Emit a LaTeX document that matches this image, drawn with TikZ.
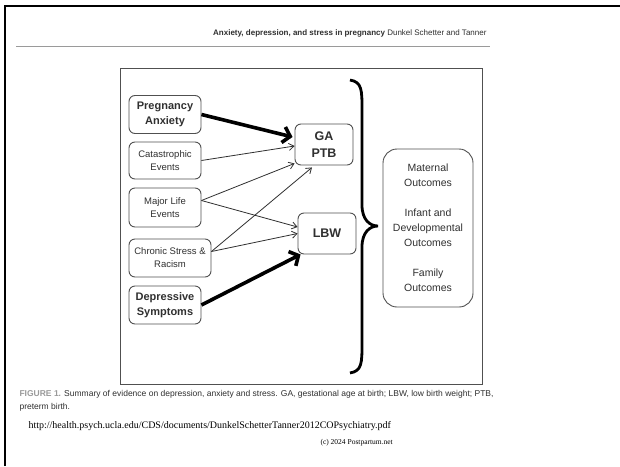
\documentclass[tikz,border=0pt]{standalone}
\usepackage{fontspec}
\setmainfont{Liberation Serif}
\setsansfont{Liberation Sans}
\usetikzlibrary{positioning,arrows.meta}
\definecolor{framegray}{HTML}{505050}
\definecolor{capgray}{HTML}{9A9A9A}
\definecolor{textgray}{HTML}{303030}

\begin{document}
\begin{tikzpicture}[x=1pt,y=-1pt,
  srcbox/.style={draw=framegray, rounded corners=6pt, line width=0.9pt, inner sep=0pt,
    minimum width=72pt, minimum height=38pt, align=center, text=textgray,
    font=\sffamily\fontsize{9.5}{13}\selectfont},
  keysrc/.style={srcbox, font=\sffamily\bfseries\fontsize{11}{15}\selectfont},
  birthbox/.style={srcbox, minimum width=58pt, minimum height=41pt,
    font=\sffamily\bfseries\fontsize{12.5}{17}\selectfont},
  thinlink/.style={-{Straight Barb[length=5pt,width=7pt]}, line width=0.8pt, draw=textgray},
  boldlink/.style={-{Straight Barb[length=7pt,width=16pt]}, line width=3.6pt}]
\useasboundingbox (0,0) rectangle (620,466);
\fill[white] (0,0) rectangle (620,466);

% page frame and running head
\draw[line width=2.4pt] (5,466) -- (5,6) -- (620,6);
\node[anchor=east, text=textgray, font=\sffamily\fontsize{8}{10}\selectfont] (head) at (490,33)
  {\textbf{Anxiety, depression, and stress in pregnancy} Dunkel Schetter and Tanner};
\draw[capgray, line width=1pt] (16,46) -- (490,46);

% figure panel
\draw[framegray, line width=0.9pt] (120,68) rectangle (482,384);

\node[keysrc] (panx) at (165,114.5) {Pregnancy\\Anxiety};
\node[srcbox, minimum height=37pt] (catas) at (165,160.5) {Catastrophic\\Events};
\node[srcbox, minimum height=39pt] (major) at (165,207.5) {Major Life\\Events};
\node[srcbox, minimum width=82pt] (chronic) at (170,258) {Chronic Stress \&\\Racism};
\node[keysrc] (depr) at (165,305) {Depressive\\Symptoms};

\node[birthbox] (gaptb) at (324,144.5) {GA\\PTB};
\node[birthbox] (lbw) at (327,233.5) {LBW};

\node[srcbox, minimum width=90pt, minimum height=158pt, rounded corners=14pt,
  font=\sffamily\fontsize{10.5}{15}\selectfont] (outc) at (428,228)
  {Maternal\\Outcomes\\[15pt]Infant and\\Developmental\\Outcomes\\[15pt]Family\\Outcomes};

\draw[boldlink] (panx.east) -- ([xshift=-2pt,yshift=7.5pt]gaptb.west);
\draw[thinlink] (catas.east) -- ([yshift=-1.5pt]gaptb.west);
\draw[thinlink] ([yshift=7pt]major.east) -- ([yshift=2pt]gaptb.south west);
\draw[thinlink] ([yshift=7pt]major.east) -- ([yshift=6.5pt]lbw.west);
\draw[thinlink] ([yshift=6.5pt]chronic.east) -- ([xshift=-12pt,yshift=-2pt]gaptb.south);
\draw[thinlink] ([yshift=6.5pt]chronic.east) -- (lbw.west);
\draw[boldlink] (depr.east) -- ([xshift=3pt]lbw.south west);

% brace
\draw[line width=2.8pt] (350,80) .. controls (362,82) and (362,90) .. (362,110) -- (362,205)
  .. controls (362,220) and (370,226) .. (378,226)
  .. controls (370,226) and (362,232) .. (362,247) -- (362,343)
  .. controls (362,363) and (362,371) .. (350,373);

% caption and source
\node[anchor=west, align=left, text=textgray, font=\sffamily\fontsize{8.5}{12.5}\selectfont] (cap) at (16,401)
  {\textcolor{capgray}{\textbf{FIGURE 1.}} Summary of evidence on depression, anxiety and stress. GA, gestational age at birth; LBW, low birth weight; PTB,\\preterm birth.};
\node[anchor=west, font=\fontsize{10}{12}\selectfont] (url) at (25,426)
  {http://health.psych.ucla.edu/CDS/documents/DunkelSchetterTanner2012COPsychiatry.pdf};
\node[anchor=west, font=\fontsize{7.5}{9}\selectfont] (copy) at (317,443) {(c) 2024 Postpartum.net};
\end{tikzpicture}
\end{document}
